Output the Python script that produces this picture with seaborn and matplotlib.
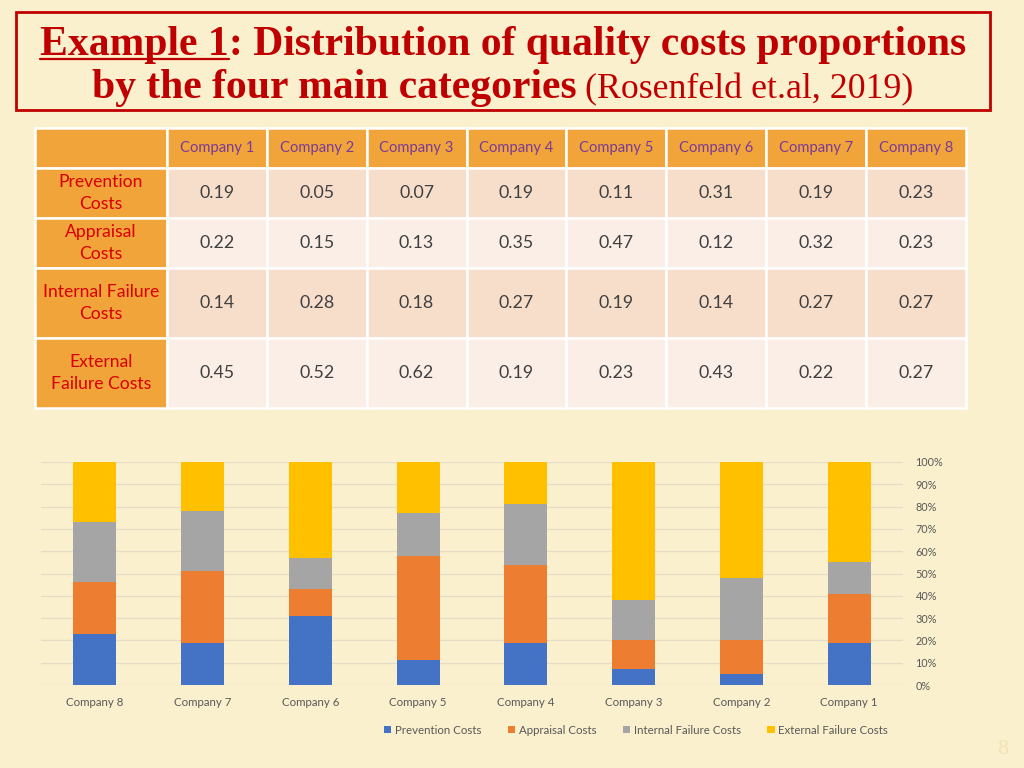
import numpy as np
import pandas as pd
import seaborn as sns
import matplotlib.pyplot as plt
from matplotlib.patches import Patch, Rectangle

sns.set_style('white')
plt.rcParams['font.family'] = ['Lato', 'DejaVu Sans']

# DATA
companies = ['Company 1', 'Company 2', 'Company 3', 'Company 4',
             'Company 5', 'Company 6', 'Company 7', 'Company 8']
categories = ['Prevention Costs', 'Appraisal Costs',
              'Internal Failure Costs', 'External Failure Costs']
row_labels = ['Prevention\nCosts', 'Appraisal\nCosts',
              'Internal Failure\nCosts', 'External\nFailure Costs']
prevention = [0.19, 0.05, 0.07, 0.19, 0.11, 0.31, 0.19, 0.23]
appraisal = [0.22, 0.15, 0.13, 0.35, 0.47, 0.12, 0.32, 0.23]
internal = [0.14, 0.28, 0.18, 0.27, 0.19, 0.14, 0.27, 0.27]
external = [0.45, 0.52, 0.62, 0.19, 0.23, 0.43, 0.22, 0.27]
pct_ticks = [0.0, 0.1, 0.2, 0.3, 0.4, 0.5, 0.6, 0.7, 0.8, 0.9, 1.0]

colors = ['#4472C4', '#ED7D31', '#A5A5A5', '#FFC000']
BG = '#FAF0CD'
RED = '#C00000'

fig = plt.figure(figsize=(10.24, 7.68), dpi=100, facecolor=BG)

# overlay axes in pixel units for title box + table
over = fig.add_axes([0, 0, 1, 1])
over.set_xlim(0, 1024)
over.set_ylim(768, 0)
over.axis('off')

over.add_patch(Rectangle((16, 12), 974, 98, fill=False, edgecolor=RED, lw=2))

# TITLE
title_kw = dict(family='Liberation Serif', color=RED, va='baseline', ha='left')
line1 = [('Example 1', 'bold', 1.0), (': Distribution of quality costs proportions', 'bold', 1.0)]
line2 = [('by the four main categories', 'bold', 1.0), ('(Rosenfeld et.al, 2019)', 'normal', 0.86)]

renderer = fig.canvas.get_renderer()
probe = over.text(0, 0, ''.join(p[0] for p in line1), fontsize=30, fontweight='bold', **title_kw)
w_probe = probe.get_window_extent(renderer).width
probe.remove()
tsize = 30 * 925 / w_probe


def place_line(parts, baseline, gaps):
    arts = [over.text(0, baseline, s, fontsize=tsize * k, fontweight=w, **title_kw)
            for s, w, k in parts]
    widths = [a.get_window_extent(renderer).width for a in arts]
    total = sum(widths) + sum(gaps)
    x = 503 - total / 2
    for a, w, g in zip(arts, widths, [0] + gaps):
        x += g
        a.set_x(x)
        x += w
    return arts, widths


gap_px = tsize * 100 / 72 * 0.2
arts1, w1 = place_line(line1, 55, [0])
arts2, w2 = place_line(line2, 98, [gap_px])
x0 = arts1[0].get_position()[0]
over.plot([x0, x0 + w1[0]], [58.5, 58.5], color=RED, lw=1.6)

# TABLE
cell_text = [[''] + companies]
for lab, vals in zip(row_labels, [prevention, appraisal, internal, external]):
    cell_text.append([lab] + ['%.2f' % v for v in vals])

tab = over.table(cellText=cell_text, cellLoc='center',
                 bbox=[35 / 1024, 1 - 408 / 768, 931 / 1024, 280 / 768])
tab.auto_set_font_size(False)
row_h = [40, 50, 50, 70, 70]
col_w = [132] + [100] * 8
ORANGE = '#F0A43A'
row_fill = ['#F7DECB', '#FAEEE6', '#F7DECB', '#FAEEE6']
for (r, c), cell in tab.get_celld().items():
    cell.set_height(row_h[r])
    cell.set_width(col_w[c])
    cell.set_edgecolor('white')
    cell.set_linewidth(1.8)
    txt = cell.get_text()
    txt.set_linespacing(1.45)
    if r == 0:
        cell.set_facecolor(ORANGE)
        txt.set_color('#7A3A96')
        txt.set_fontsize(10.6)
    elif c == 0:
        cell.set_facecolor(ORANGE)
        txt.set_color('#D80000')
        txt.set_fontsize(12.6)
    else:
        cell.set_facecolor(row_fill[r - 1])
        txt.set_color('#404040')
        txt.set_fontsize(12.8)

# CHART
df = pd.DataFrame({'company': companies, categories[0]: prevention, categories[1]: appraisal,
                   categories[2]: internal, categories[3]: external})
cum = df[categories].cumsum(axis=1)
for cat in categories:
    df['top_' + cat] = cum[cat]

order = companies[::-1]
cax = fig.add_axes([41 / 1024, (768 - 685) / 768, 862 / 1024, 223 / 768])
cax.set_facecolor('none')
for cat, col in reversed(list(zip(categories, colors))):
    sns.barplot(data=df, x='company', y='top_' + cat, order=order, color=col,
                width=0.4, saturation=1, linewidth=0, errorbar=None, ax=cax)

cax.set_ylim(0, 1)
cax.set_yticks(pct_ticks)
cax.set_yticklabels(['%d%%' % round(v * 100) for v in pct_ticks])
cax.yaxis.tick_right()
cax.tick_params(axis='y', length=0, pad=9, labelsize=7.8, labelcolor='#595959')
cax.tick_params(axis='x', length=0, pad=9, labelsize=8.3, labelcolor='#595959')
cax.set_xlabel('')
cax.set_ylabel('')
cax.grid(axis='y', color='#E4DCC6', lw=0.9)
cax.set_axisbelow(True)
for s in cax.spines.values():
    s.set_visible(False)

handles = [Patch(facecolor=c, edgecolor='none') for c in colors]
fig.legend(handles, categories, loc='center', bbox_to_anchor=(636 / 1024, 1 - 730 / 768),
           ncol=4, frameon=False, fontsize=8.3, labelcolor='#595959',
           handlelength=0.65, handleheight=0.65, handletextpad=0.3, columnspacing=2.3)

over.text(1003, 750, '8', fontsize=16, color='#F2E2B4', ha='center', va='center',
          family='Liberation Serif')

fig.savefig('out.png', dpi=100, facecolor=BG)
